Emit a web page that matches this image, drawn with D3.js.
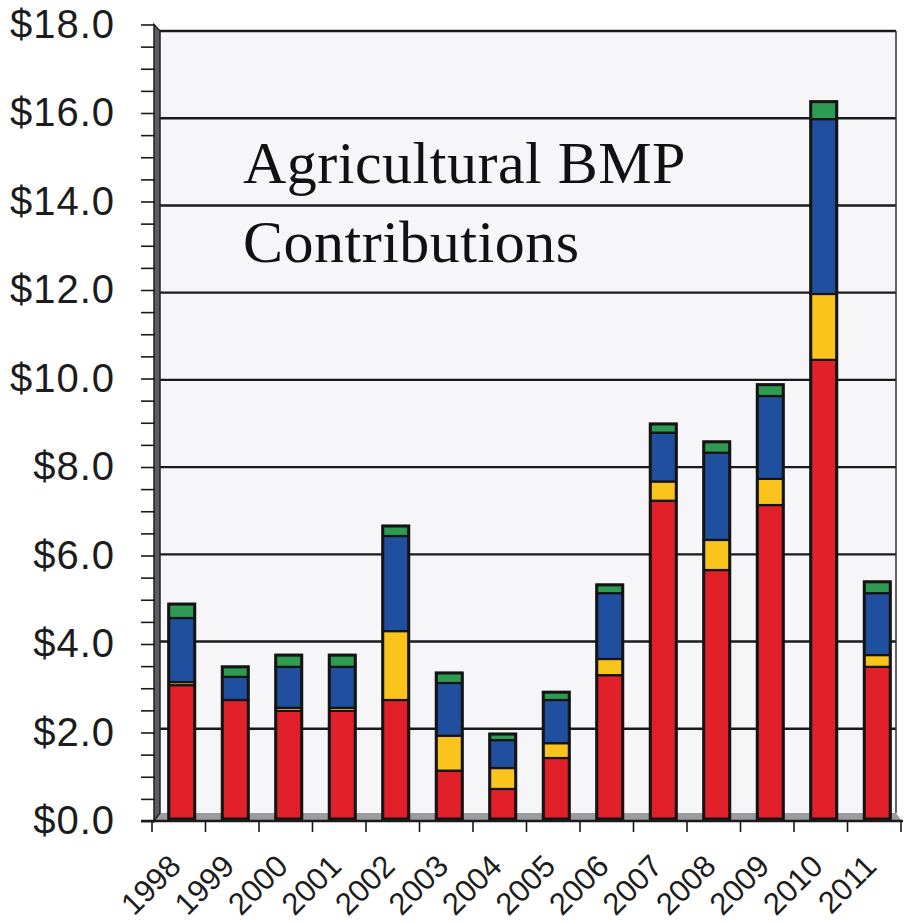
<!DOCTYPE html>
<meta charset="utf-8">
<style>
  body { margin: 0; background: #fff; }
  text { font-family: 'Liberation Sans', Arial, sans-serif; }
</style>
<svg width="904" height="922"></svg>
<script src="https://d3js.org/d3.v7.min.js"></script>
<script>
// values in $ millions
var years  = ["1998","1999","2000","2001","2002","2003","2004","2005","2006","2007","2008","2009","2010","2011"];
var red    = [3.00, 2.66, 2.41, 2.41, 2.66, 1.04, 0.62, 1.33, 3.23, 7.23, 5.64, 7.13, 10.46, 3.42];
var yellow = [0.07, 0.00, 0.07, 0.07, 1.58, 0.80, 0.48, 0.34, 0.37, 0.44, 0.69, 0.60, 1.51, 0.27];
var blue   = [1.47, 0.53, 0.94, 0.94, 2.18, 1.21, 0.64, 0.99, 1.51, 1.12, 2.00, 1.90, 4.01, 1.42];
var green  = [0.32, 0.23, 0.27, 0.27, 0.23, 0.23, 0.14, 0.18, 0.19, 0.20, 0.25, 0.26, 0.40, 0.26];
var yLabels = [0, 2, 4, 6, 8, 10, 12, 14, 16, 18];
var title = ["Agricultural BMP", "Contributions"];

var colors = {red: "#e2202a", yellow: "#fbc41c", blue: "#1f4f9e", green: "#2e9a52"};

var svg = d3.select("svg");

var data = years.map(function(y, i) {
  return {year: y, red: red[i], yellow: yellow[i], blue: blue[i], green: green[i]};
});

// front edge (ticks) and back wall (gridlines, bars) scales - fake 3d
var yF = d3.scaleLinear().domain([0, 18]).range([821, 24.5]);
var yB = d3.scaleLinear().domain([0, 18]).range([816, 31]);

var x = d3.scaleBand().domain(years).range([152, 901]);
var xBar = d3.scaleBand().domain(years).range([155, 904]).paddingInner(0.514).paddingOuter(0.257);

// plot wall
svg.append("rect")
    .attr("x", 160).attr("y", yB(18))
    .attr("width", 896 - 160).attr("height", yB(0) - 3 - yB(18))
    .attr("fill", "#f6f6f8");

// floor
svg.append("path")
    .attr("d", "M160," + (yB(0) - 3) + "L896," + (yB(0) - 3) + "L902," + yF(0) + "L152," + yF(0) + "Z")
    .attr("fill", "#9c9ca0");

// gridlines
svg.append("g").selectAll("line")
  .data(yLabels.filter(function(d) { return d > 0; }))
  .join("line")
    .attr("x1", 158).attr("x2", 896)
    .attr("y1", function(d) { return yB(d); })
    .attr("y2", function(d) { return yB(d); })
    .attr("stroke", "#1a1a1a")
    .attr("stroke-width", 2.4);

// right wall edge
svg.append("line")
    .attr("x1", 896).attr("x2", 896)
    .attr("y1", yB(18)).attr("y2", yB(0) - 3)
    .attr("stroke", "#333").attr("stroke-width", 1.5);

// left side wall
svg.append("path")
    .attr("d", "M154," + yF(18) + "L160," + yB(18) + "L160," + (yB(0) - 3) + "L154," + yF(0) + "Z")
    .attr("fill", "#5e5e62")
    .attr("stroke", "#222")
    .attr("stroke-width", 1.5);

// bars
var stack = d3.stack().keys(["red", "yellow", "blue", "green"]);
var series = stack(data);

svg.append("g").selectAll("g")
  .data(series)
  .join("g")
    .attr("fill", function(s) { return colors[s.key]; })
  .selectAll("rect")
  .data(function(s) { return s; })
  .join("rect")
    .attr("x", function(d) { return xBar(d.data.year); })
    .attr("width", xBar.bandwidth())
    .attr("y", function(d) { return yB(d[1]); })
    .attr("height", function(d) { return Math.max(0, yB(d[0]) - yB(d[1]) + (d[0] === 0 ? 3 : 0)); })
    .attr("stroke", "#141414")
    .attr("stroke-width", 2.2);

// bar outlines
svg.append("g").selectAll("rect")
  .data(data)
  .join("rect")
    .attr("x", function(d) { return xBar(d.year); })
    .attr("width", xBar.bandwidth())
    .attr("y", function(d) { return yB(d.red + d.yellow + d.blue + d.green); })
    .attr("height", function(d) { return yB(0) + 3 - yB(d.red + d.yellow + d.blue + d.green); })
    .attr("fill", "none")
    .attr("stroke", "#141414")
    .attr("stroke-width", 3);

// y axis
var yAxis = d3.axisLeft(yF)
    .tickValues(d3.range(0, 18.01, 0.5))
    .tickSize(14)
    .tickPadding(26)
    .tickFormat(function(d) { return d % 2 === 0 ? "$" + d.toFixed(1) : ""; });

svg.append("g")
    .attr("transform", "translate(155,0)")
    .call(yAxis)
    .call(function(g) { g.select(".domain").remove(); })
    .call(function(g) {
      g.selectAll(".tick line").attr("stroke", "#1a1a1a").attr("stroke-width", 1.6);
      g.selectAll(".tick text")
        .attr("fill", "#1c1c1c")
        .style("font-size", "40px")
        .style("letter-spacing", "1px")
        .style("font-family", "'Liberation Sans', Arial, sans-serif");
    });

// x baseline and ticks
svg.append("line")
    .attr("x1", 141).attr("x2", 903)
    .attr("y1", yF(0)).attr("y2", yF(0))
    .attr("stroke", "#1a1a1a").attr("stroke-width", 2.5);

svg.append("g").selectAll("line")
  .data(years.concat(["end"]))
  .join("line")
    .attr("x1", function(d) { return d === "end" ? x.range()[1] : x(d); })
    .attr("x2", function(d) { return d === "end" ? x.range()[1] : x(d); })
    .attr("y1", yF(0)).attr("y2", yF(0) + 11)
    .attr("stroke", "#1a1a1a").attr("stroke-width", 1.6);

svg.append("g").selectAll("text")
  .data(years)
  .join("text")
    .attr("transform", function(d) {
      return "translate(" + (x(d) + x.bandwidth() / 2 + 4) + "," + 868 + ") rotate(-45)";
    })
    .attr("text-anchor", "end")
    .attr("fill", "#1c1c1c")
    .style("font-size", "31px")
    .text(function(d) { return d; });

// title
svg.append("g").selectAll("text")
  .data(title)
  .join("text")
    .attr("x", 243)
    .attr("y", function(d, i) { return 183 + i * 79; })
    .attr("fill", "#111")
    .style("font-family", "'Liberation Serif', 'Times New Roman', serif")
    .style("font-size", "60px")
    .style("letter-spacing", "0.5px")
    .text(function(d) { return d; });
</script>
